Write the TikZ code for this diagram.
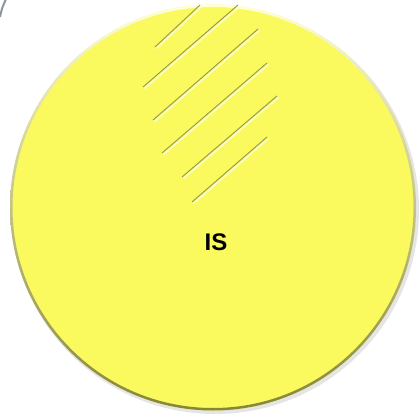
\documentclass[tikz,border=0pt]{standalone}
\usepackage{fontspec}
\newfontfamily\labelfont{Liberation Sans}
\usepackage{xcolor}
\definecolor{isyellow}{HTML}{FAFA5E}
\definecolor{hatchdark}{HTML}{96964C}
\definecolor{hatchlight}{HTML}{FCFCC8}
\definecolor{rimdark}{HTML}{85853A}
\definecolor{rimlight}{HTML}{FFFFD8}
\definecolor{edgegray}{HTML}{8A96A0}
\usetikzlibrary{positioning, calc}

\begin{document}
\begin{tikzpicture}[x=1pt, y=-1pt,
    disc/.style={circle, fill=isyellow, minimum size=406pt, inner sep=0pt},
    hatch/.style={draw=hatchdark, line width=0.9pt},
    glint/.style={draw=hatchlight, line width=1.6pt},
    lbl/.style={font=\labelfont\bfseries\fontsize{24}{28}\selectfont}
  ]
    \useasboundingbox (0,0) rectangle (418,419);
    % neighbouring shape, only its rim shows
    \draw[edgegray, line width=2pt] (0,17) .. controls (2,8) .. (6,-1);
    % soft drop shadow
    \fill[black!10] (215,210) circle (204pt);
    \node[disc] (is) at (213,207.5) {};
    % bevelled rim
    \shade[even odd rule, shading angle=45, top color=rimlight, bottom color=rimdark]
      (is.center) circle (203pt) (is.center) circle (200.5pt);
    % hatching
    \foreach \ax/\ay/\bx/\by in {200/5/155/47, 238/5/143/87, 258/29/153/120,
                                 267/63/162/153, 277/96/182/177, 267/137/192/202} {
      \draw[glint] (\ax+1.5,\ay+1.5) -- (\bx+1.5,\by+1.5);
      \draw[hatch] (\ax,\ay) -- (\bx,\by);
    }
    \node[lbl] (islbl) at (216,242) {IS};
  \end{tikzpicture}
\end{document}
